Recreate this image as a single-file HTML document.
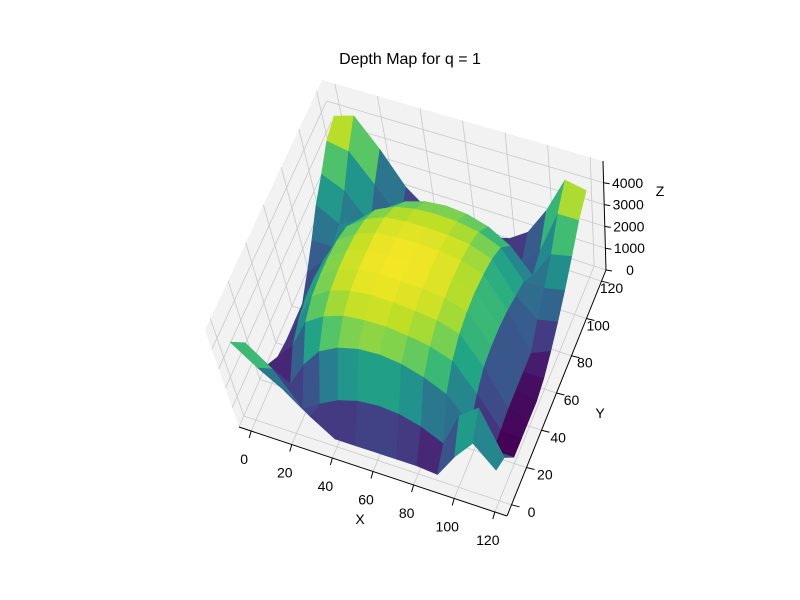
<!DOCTYPE html>
<html><head><meta charset="utf-8"><style>
html,body{margin:0;padding:0;background:#fff;}
svg{display:block;font-family:"Liberation Sans","DejaVu Sans",sans-serif;}
</style></head><body>
<svg id="chart" width="800" height="600" viewBox="0 0 800 600" xmlns="http://www.w3.org/2000/svg">
<rect width="800" height="600" fill="#fff"/>
<text x="410" y="64" text-anchor="middle" font-size="16" fill="#000">Depth Map for q = 1</text>
<g id="panes"></g>
<g id="surface"></g>
<g id="axes"></g>
<text x="360" y="524" text-anchor="middle" font-size="14">X</text>
<text x="600" y="418" text-anchor="middle" font-size="14">Y</text>
<text x="660" y="196" text-anchor="middle" font-size="14">Z</text>
</svg>
<script>
const xCoords = [0,10,20,30,40,50,60,70,80,90,100,110,120];
const yCoords = [0,10,20,30,40,50,60,70,80,90,100,110,120];
const heights = [
[4000,3000,2200,1200,400,400,400,400,400,300,1500,2500,1500],
[3000,2000,300,900,1400,1700,1800,1700,1400,900,2600,3300,1200],
[900,300,1600,2600,3100,3350,3400,3250,2900,2400,1200,300,300],
[400,1300,2800,3400,3750,3850,3850,3700,3500,3100,1800,400,300],
[300,1700,3150,3750,4050,4150,4100,4000,3850,3500,2200,500,300],
[300,1900,3250,3850,4150,4250,4200,4150,4000,3650,2300,500,300],
[300,1900,3250,3850,4150,4250,4250,4200,4050,3700,2300,500,500],
[900,1800,3150,3750,4100,4200,4200,4150,4000,3600,2200,500,900],
[1600,1600,2900,3550,3950,4050,4050,4000,3850,3450,2000,1200,1400],
[2400,1800,2300,3100,3550,3750,3800,3750,3550,3100,1800,1800,2000],
[3000,2500,1200,2300,2900,3200,3300,3200,2900,2300,1200,2500,2700],
[3700,3500,2200,800,1500,2000,2200,2000,1500,600,1500,3500,3500],
[4000,4300,3000,1500,700,300,300,300,600,1200,2500,4200,4000]
];
const xTicks = [0,20,40,60,80,100,120];
const yTicks = [0,20,40,60,80,100,120];
const zTicks = [0,1000,2000,3000,4000];

const NS = "http://www.w3.org/2000/svg";
const LO = -6, HI = 126, ZTOP = 5000;
const A = [239,427], B = [507,516], C = [606,270], D = [345,185];
const vA = [-34,-97], vB = [-10,-102], vC = [-3,-109], vD = [-23,-105];
function bil(u,v,a,b,c,d,k){return a[k]*(1-u)*(1-v)+b[k]*u*(1-v)+c[k]*u*v+d[k]*(1-u)*v;}
function proj(x,y,z){
  const u=(x-LO)/(HI-LO), v=(y-LO)/(HI-LO), s=z/ZTOP;
  return [bil(u,v,A,B,C,D,0)+s*bil(u,v,vA,vB,vC,vD,0), bil(u,v,A,B,C,D,1)+s*bil(u,v,vA,vB,vC,vD,1)];
}
const vir = ["#440154","#482475","#414487","#355f8d","#2a788e","#21918c","#22a884","#44bf70","#7ad151","#bddf26","#fde725"];
function hx(c){return [parseInt(c.substr(1,2),16),parseInt(c.substr(3,2),16),parseInt(c.substr(5,2),16)];}
function viridis(t){
  t=Math.max(0,Math.min(1,t)); const p=t*10, i=Math.min(9,Math.floor(p)), f=p-i;
  const a=hx(vir[i]), b=hx(vir[i+1]);
  return "rgb("+a.map((q,k)=>Math.round(q+(b[k]-q)*f)).join(",")+")";
}
function pts(arr){return arr.map(p=>p[0].toFixed(1)+","+p[1].toFixed(1)).join(" ");}
function poly(g,arr,fill,stroke,name){
  const e=document.createElementNS(NS,"polygon");
  e.setAttribute("points",pts(arr)); e.setAttribute("fill",fill);
  if(stroke){e.setAttribute("stroke",stroke);e.setAttribute("stroke-width","0.6");e.setAttribute("stroke-linejoin","round");}
  
  
  g.appendChild(e); return e;
}
function line(g,p,q,col,w,name){
  const e=document.createElementNS(NS,"line");
  e.setAttribute("x1",p[0]);e.setAttribute("y1",p[1]);e.setAttribute("x2",q[0]);e.setAttribute("y2",q[1]);
  e.setAttribute("stroke",col);e.setAttribute("stroke-width",w);
  
  
  g.appendChild(e);
}
function text(g,x,y,s,name){
  const e=document.createElementNS(NS,"text");
  e.setAttribute("x",x);e.setAttribute("y",y);e.setAttribute("text-anchor","middle");e.setAttribute("font-size","14");
  e.textContent=s;
  
  
  g.appendChild(e);
}
const pg=document.getElementById("panes");
poly(pg,[proj(LO,LO,0),proj(HI,LO,0),proj(HI,HI,0),proj(LO,HI,0)],"#f2f2f2",null,"floor-pane");
poly(pg,[proj(LO,LO,0),proj(LO,HI,0),proj(LO,HI,ZTOP),proj(LO,LO,ZTOP)],"#f2f2f2",null,"left-pane");
poly(pg,[proj(LO,HI,0),proj(HI,HI,0),proj(HI,HI,ZTOP),proj(LO,HI,ZTOP)],"#f2f2f2",null,"back-pane");
const gc="#c8c8c8";
xTicks.forEach(t=>{line(pg,proj(t,LO,0),proj(t,HI,0),gc,0.8,"floor-gridline-x");line(pg,proj(t,HI,0),proj(t,HI,ZTOP),gc,0.8,"back-gridline-x");});
yTicks.forEach(t=>{line(pg,proj(LO,t,0),proj(HI,t,0),gc,0.8,"floor-gridline-y");line(pg,proj(LO,t,0),proj(LO,t,ZTOP),gc,0.8,"left-gridline-y");});
zTicks.forEach(t=>{line(pg,proj(LO,LO,t),proj(LO,HI,t),gc,0.8,"left-gridline-z");line(pg,proj(LO,HI,t),proj(HI,HI,t),gc,0.8,"back-gridline-z");});
let zmin=Infinity,zmax=-Infinity;
heights.forEach(r=>r.forEach(v=>{zmin=Math.min(zmin,v);zmax=Math.max(zmax,v);}));
const quads=[];
for(let j=0;j<yCoords.length-1;j++)for(let i=0;i<xCoords.length-1;i++){
  const x0=xCoords[i],x1=xCoords[i+1],y0=yCoords[j],y1=yCoords[j+1];
  const z00=heights[j][i],z10=heights[j][i+1],z11=heights[j+1][i+1],z01=heights[j+1][i];
  const zc=(z00+z10+z11+z01)/4;
  quads.push({key:0.35*(x0+x1)/2-(y0+y1)/2, p:[proj(x0,y0,z00),proj(x1,y0,z10),proj(x1,y1,z11),proj(x0,y1,z01)], c:viridis((zc-zmin)/(zmax-zmin))});
}
quads.sort((a,b)=>a.key-b.key);
const sg=document.getElementById("surface");
quads.forEach(q=>poly(sg,q.p,q.c,q.c,"surface-patch"));
const ag=document.getElementById("axes");
line(ag,proj(LO,LO,0),proj(HI,LO,0),"#000",1,"x-axis-line");
line(ag,proj(HI,LO,0),proj(HI,HI,0),"#000",1,"y-axis-line");
line(ag,proj(HI,HI,0),proj(HI,HI,ZTOP),"#000",1,"z-axis-line");
xTicks.forEach(t=>{const p=proj(t,LO,0);line(ag,p,[p[0]-2,p[1]+7],"#000",1,"x-tick");text(ag,p[0]-7,p[1]+33,String(t),"x-tick-label");});
yTicks.forEach(t=>{const p=proj(HI,t,0);line(ag,p,[p[0]+8,p[1]+2],"#000",1,"y-tick");text(ag,p[0]+20-10*t/120,p[1]+12,String(t),"y-tick-label");});
zTicks.forEach(t=>{const p=proj(HI,HI,t);line(ag,p,[p[0]+6,p[1]+1],"#000",1,"z-tick");text(ag,p[0]+24,p[1]+5,String(t),"z-tick-label");});
</script>
</body></html>
